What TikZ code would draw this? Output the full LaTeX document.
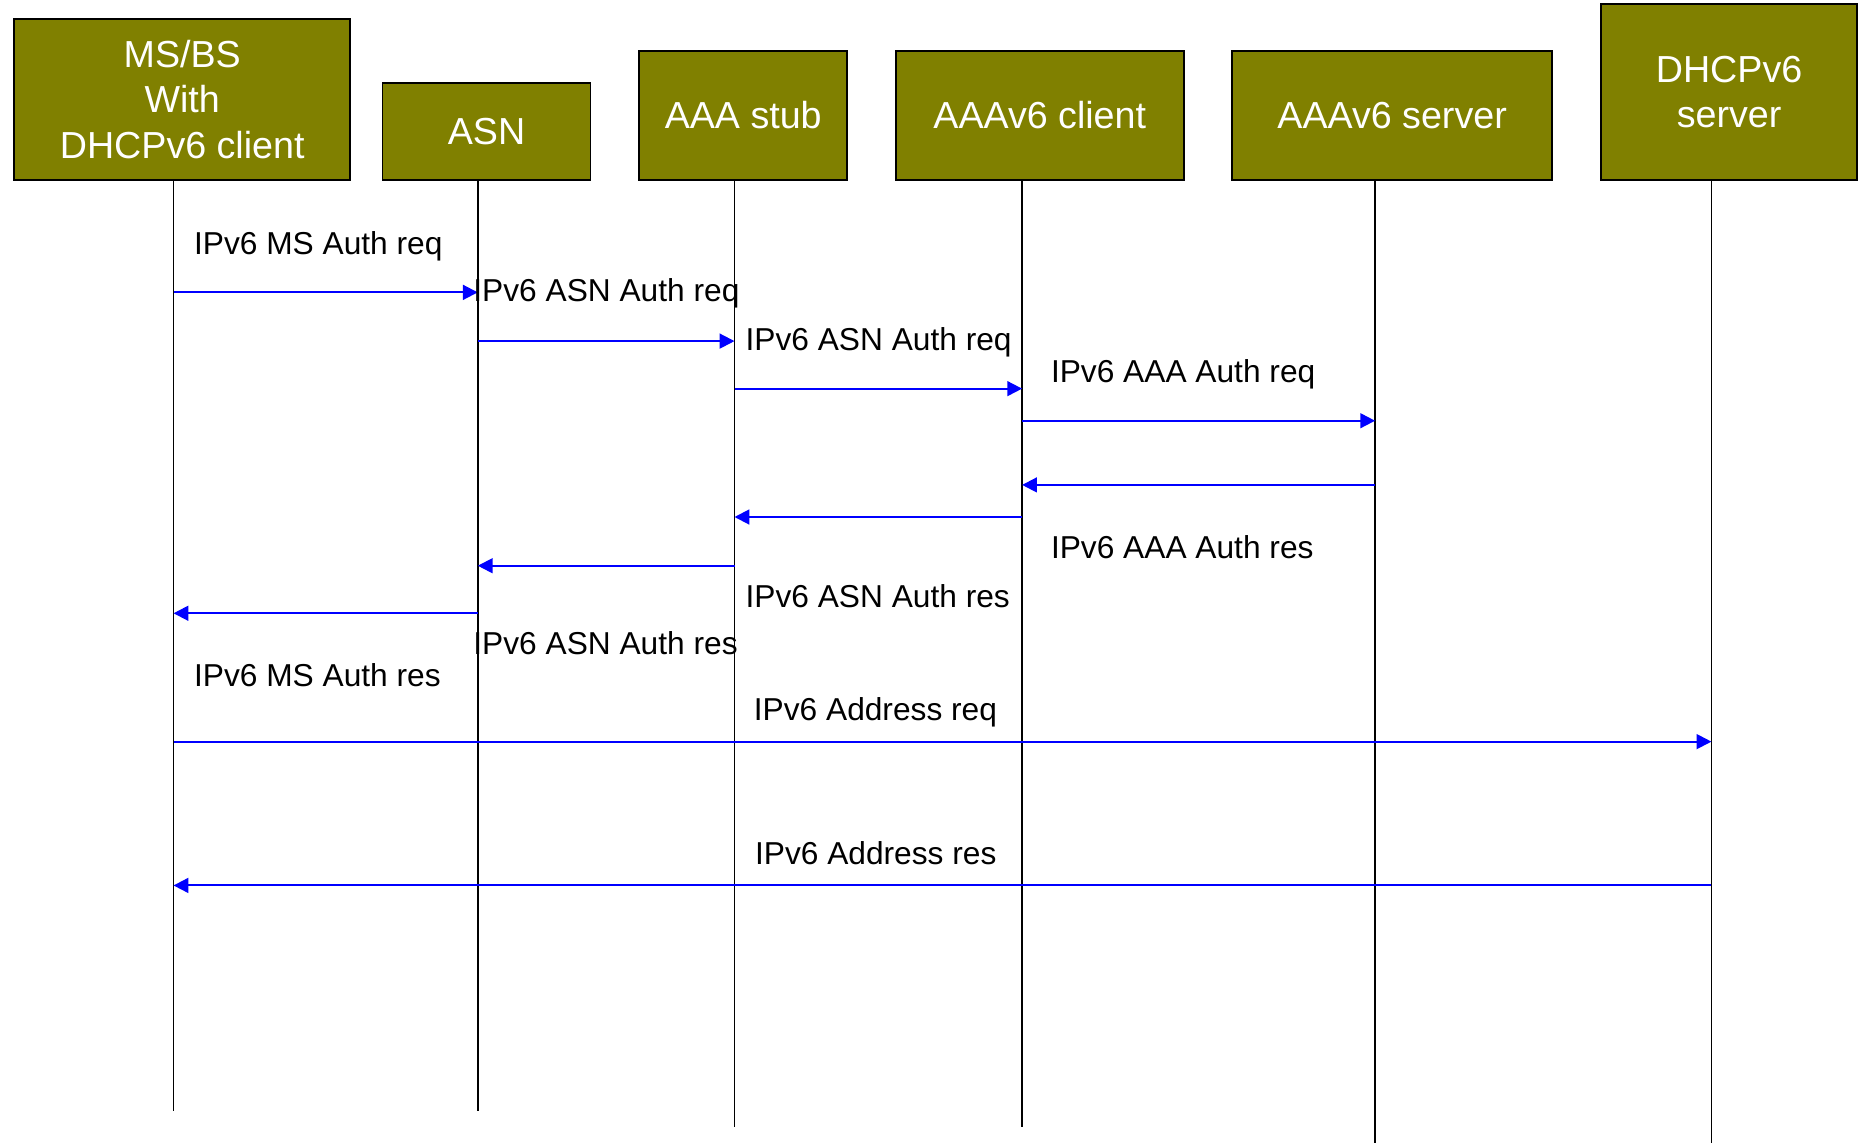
\documentclass[tikz,border=0pt]{standalone}
\usepackage{fontspec}
\setmainfont{Liberation Sans}
\usetikzlibrary{arrows.meta}

\definecolor{olivebox}{RGB}{128,128,0}
\definecolor{msgblue}{RGB}{0,0,255}
\tikzset{
	actor/.style = {draw, line width=1pt, fill=olivebox, text=white, inner sep=0pt, align=center, anchor=south west, font=\fontsize{19}{22.8}\selectfont},
	life/.style = {line width=0.8pt},
	msg/.style = {draw=msgblue, line width=1pt, -{Triangle[length=7.5pt,width=7.5pt]}},
	lbl/.style = {anchor=base west, inner sep=0pt, font=\fontsize{16}{19}\selectfont}
}

\begin{document}
\begin{tikzpicture}[x=0.6pt, y=-0.6pt]
		\useasboundingbox (0,0) rectangle (1565,962);
		\node[actor, minimum width=283*0.6pt, minimum height=135*0.6pt] (ms) at (11,152) {MS/BS\\With\\DHCPv6 client};
		\node[actor, minimum width=175*0.6pt, minimum height=81*0.6pt] (asn) at (321,152) {ASN};
		\node[actor, minimum width=175*0.6pt, minimum height=108*0.6pt] (stub) at (537,152) {AAA stub};
		\node[actor, minimum width=242*0.6pt, minimum height=108*0.6pt] (client) at (753,152) {AAAv6 client};
		\node[actor, minimum width=269*0.6pt, minimum height=108*0.6pt] (server) at (1036,152) {AAAv6 server};
		\node[actor, minimum width=216*0.6pt, minimum height=148*0.6pt] (dhcp) at (1346,152) {DHCPv6\\server};
		\coordinate (ms-bot) at (146,935);
		\coordinate (asn-bot) at (402,935);
		\coordinate (stub-bot) at (618,948);
		\coordinate (client-bot) at (860,948);
		\coordinate (server-bot) at (1157,962);
		\coordinate (dhcp-bot) at (1440,962);
		\foreach \n in {ms,asn,stub,client,server,dhcp}
			\draw[life] (\n.south -| \n-bot) -- (\n-bot);
		\foreach \a/\b/\y in {ms/asn/246, asn/stub/287, stub/client/327, client/server/354, server/client/408, client/stub/435, stub/asn/476, asn/ms/516, ms/dhcp/624, dhcp/ms/745}
			\draw[msg] (\a-bot |- 0,\y) -- (\b-bot |- 0,\y);
		\node[lbl] (msreq) at (163,214) {IPv6 MS Auth req};
		\node[lbl] (asnreq1) at (398,254) {IPv6 ASN Auth req};
		\node[lbl] (asnreq2) at (627,295) {IPv6 ASN Auth req};
		\node[lbl] (aaareq) at (884,322) {IPv6 AAA Auth req};
		\node[lbl] (aaares) at (884,470) {IPv6 AAA Auth res};
		\node[lbl] (asnres2) at (627,511) {IPv6 ASN Auth res};
		\node[lbl] (asnres1) at (398,551) {IPv6 ASN Auth res};
		\node[lbl] (msres) at (163,578) {IPv6 MS Auth res};
		\node[lbl] (addrreq) at (634,606) {IPv6 Address req};
		\node[lbl] (addrres) at (635,727) {IPv6 Address res};
	\end{tikzpicture}
\end{document}
